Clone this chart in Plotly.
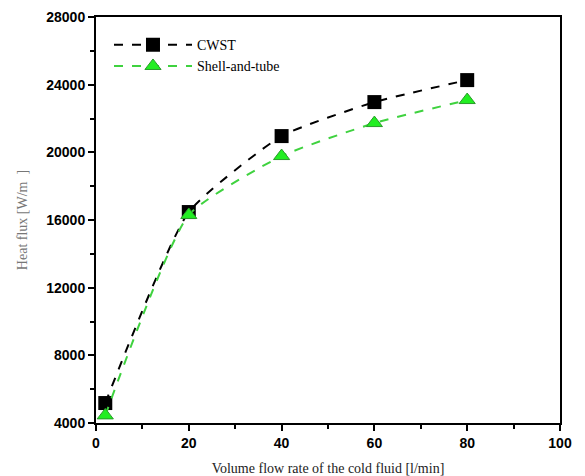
import plotly.graph_objects as go

flow = [2, 20, 40, 60, 80]
cwst = [5180, 16470, 20960, 22970, 24270]
shell = [4450, 16300, 19780, 21730, 23090]

x_ticks = [0, 20, 40, 60, 80, 100]
y_ticks = [4000, 8000, 12000, 16000, 20000, 24000, 28000]
x_labels = [str(v) for v in x_ticks]
y_labels = [str(v) for v in y_ticks]

fig = go.Figure()
fig.add_trace(go.Scatter(
    x=flow, y=cwst, name="CWST", mode="lines+markers",
    line=dict(color="black", dash="dash", width=2, shape="spline", smoothing=0.5),
    marker=dict(symbol="square", size=14, color="black"),
))
fig.add_trace(go.Scatter(
    x=flow, y=shell, name="Shell-and-tube", mode="lines+markers",
    line=dict(color="#3fd23f", dash="dash", width=2, shape="spline", smoothing=0.5),
    marker=dict(symbol="triangle-up", size=14, color="#22ee22",
                line=dict(color="#2a9a2a", width=1)),
))

axis_common = dict(
    showline=True, linecolor="black", linewidth=2, mirror=True,
    ticks="outside", ticklen=6, tickwidth=2, tickcolor="black",
    showgrid=False, zeroline=False, automargin=False,
    tickfont=dict(family="Liberation Sans", size=14, color="black", weight="bold"),
    minor=dict(ticks="outside", ticklen=4, tickwidth=1.5, tickcolor="black"),
)

fig.update_layout(
    width=585, height=476,
    margin=dict(l=96, r=25, t=17, b=53, autoexpand=False),
    paper_bgcolor="white", plot_bgcolor="white",
    xaxis=dict(range=[0, 100], tickvals=x_ticks, ticktext=x_labels,
               title=dict(text="Volume flow rate of the cold fluid [l/min]",
                          font=dict(family="Liberation Serif", size=14, color="#222"),
                          standoff=13),
               **axis_common),
    yaxis=dict(range=[4000, 28000], tickvals=y_ticks, ticktext=y_labels,
               title=dict(text="Heat flux [W/m  ]",
                          font=dict(family="Liberation Serif", size=14, color="#777"),
                          standoff=15),
               **axis_common),
    legend=dict(x=0.028, y=0.97, xanchor="left", yanchor="top",
                bgcolor="rgba(0,0,0,0)", itemwidth=78, tracegroupgap=0,
                font=dict(family="Liberation Serif", size=14, color="black")),
    showlegend=True,
)
fig.update_xaxes(minor=dict(dtick=10, tick0=0))
fig.update_yaxes(minor=dict(dtick=2000, tick0=0))

fig.write_html("out.html", config={"displayModeBar": False},
               post_script="document.body.style.margin='0';document.body.style.overflow='hidden';")
